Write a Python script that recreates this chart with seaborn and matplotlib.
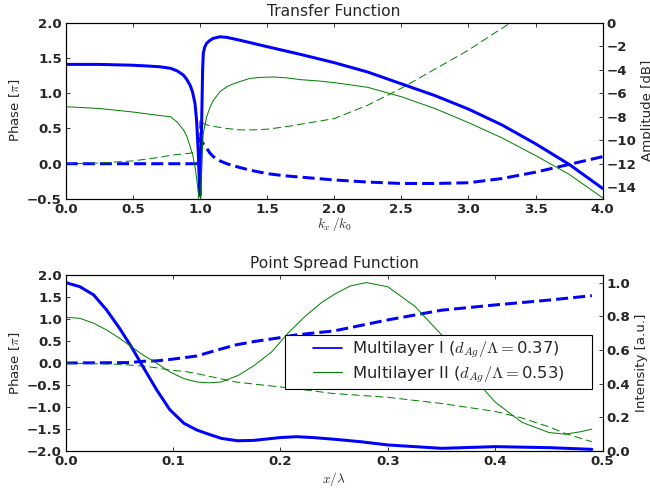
import matplotlib
matplotlib.use("Agg")
import matplotlib.pyplot as plt
import seaborn as sns
from matplotlib.lines import Line2D
from matplotlib.legend_handler import HandlerLine2D

# ---------------- data: Transfer Function ----------------
tf_k_blue_amp = [0, 0.25, 0.5, 0.6, 0.7, 0.78, 0.83, 0.876, 0.9, 0.926, 0.945, 0.963, 0.975,
                 0.988, 0.995, 1.0, 1.007, 1.013, 1.02, 1.025, 1.035, 1.05, 1.075, 1.1, 1.15,
                 1.2, 1.3, 1.5, 1.75, 2.0, 2.25, 2.5, 2.75, 3.0, 3.25, 3.5, 3.75, 4.0]
tf_blue_amp = [-3.55, -3.55, -3.62, -3.68, -3.75, -3.88, -4.1, -4.45, -4.8, -5.3, -5.9, -6.86, -8.3,
               -11.1, -13.5, -14.7, -12.0, -8.3, -4.0, -2.6, -2.1, -1.75, -1.5, -1.33, -1.2,
               -1.25, -1.5, -2.04, -2.7, -3.4, -4.2, -5.2, -6.2, -7.35, -8.7, -10.3, -12.05, -14.1]

tf_k_blue_ph = [0, 0.5, 0.99, 1.0, 1.025, 1.05, 1.075, 1.1, 1.15, 1.2, 1.27, 1.37, 1.5, 1.625,
                1.75, 1.875, 2.0, 2.25, 2.5, 2.75, 3.0, 3.25, 3.5, 3.75, 4.0]
tf_blue_ph = [0, 0, 0, 0.36, 0.28, 0.22, 0.15, 0.1, 0.04, 0.0, -0.04, -0.09, -0.14, -0.17,
              -0.19, -0.21, -0.23, -0.26, -0.28, -0.28, -0.27, -0.21, -0.12, -0.01, 0.1]

tf_k_green_amp = [0, 0.25, 0.5, 0.6, 0.7, 0.78, 0.83, 0.876, 0.9, 0.926, 0.945, 0.963, 0.975,
                  0.988, 0.995, 1.0, 1.007, 1.013, 1.025, 1.05, 1.075, 1.1, 1.15, 1.2, 1.25,
                  1.3, 1.37, 1.45, 1.55, 1.65, 1.75, 1.875, 2.0, 2.25, 2.5, 2.75, 3.0, 3.25,
                  3.5, 3.75, 4.0]
tf_green_amp = [-7.15, -7.3, -7.6, -7.75, -7.9, -8.0, -8.45, -9.1, -9.6, -10.5, -11.2, -12.25, -13.2,
                -14.5, -16.0, -20.0, -14.0, -11.7, -9.4, -8.0, -7.2, -6.6, -5.87, -5.45, -5.2,
                -5.0, -4.75, -4.65, -4.62, -4.7, -4.85, -4.95, -5.1, -5.5, -6.3, -7.3, -8.5, -9.8,
                -11.3, -12.9, -14.9]

tf_k_green_ph = [0, 0.25, 0.5, 0.7, 0.78, 0.93, 0.99, 1.0, 1.025, 1.05, 1.1, 1.2, 1.3, 1.4,
                 1.5, 1.625, 1.75, 1.875, 2.0, 2.25, 2.5, 2.75, 3.0, 3.2, 3.4]
tf_green_ph = [0, 0.01, 0.04, 0.09, 0.12, 0.15, 0.185, 0.62, 0.57, 0.55, 0.53, 0.5, 0.48, 0.48,
               0.49, 0.52, 0.56, 0.6, 0.64, 0.83, 1.07, 1.34, 1.61, 1.86, 2.1]

# ---------------- data: Point Spread Function ----------------
psf_x_blue_int = [0, 0.013, 0.026, 0.038, 0.05, 0.061, 0.072, 0.085, 0.097, 0.11, 0.122, 0.133,
                  0.145, 0.16, 0.175, 0.2, 0.215, 0.23, 0.25, 0.275, 0.3, 0.35, 0.4, 0.45, 0.49]
psf_blue_int = [1.0, 0.976, 0.927, 0.838, 0.73, 0.62, 0.5, 0.36, 0.245, 0.165, 0.125, 0.1,
                0.075, 0.061, 0.063, 0.08, 0.085, 0.08, 0.07, 0.055, 0.036, 0.016, 0.026, 0.02, 0.01]

psf_x_blue_ph = [0, 0.06, 0.072, 0.085, 0.097, 0.11, 0.122, 0.139, 0.158, 0.176, 0.198, 0.215,
                 0.25, 0.3, 0.35, 0.4, 0.45, 0.49]
psf_blue_ph = [0, 0.01, 0.04, 0.05, 0.08, 0.12, 0.16, 0.28, 0.41, 0.49, 0.57, 0.64,
               0.73, 0.98, 1.2, 1.32, 1.43, 1.53]

psf_x_green_int = [0, 0.013, 0.026, 0.038, 0.05, 0.061, 0.072, 0.085, 0.097, 0.11, 0.122, 0.133,
                   0.145, 0.161, 0.176, 0.192, 0.207, 0.223, 0.238, 0.25, 0.265, 0.28, 0.3, 0.325,
                   0.35, 0.375, 0.4, 0.425, 0.45, 0.465, 0.48, 0.49]
psf_green_int = [0.794, 0.788, 0.759, 0.719, 0.67, 0.62, 0.57, 0.52, 0.47, 0.43, 0.41, 0.405,
                 0.41, 0.45, 0.51, 0.59, 0.70, 0.80, 0.88, 0.93, 0.98, 1.0, 0.975, 0.86,
                 0.69, 0.47, 0.29, 0.17, 0.11, 0.10, 0.115, 0.13]

psf_x_green_ph = [0, 0.05, 0.072, 0.085, 0.097, 0.113, 0.12, 0.139, 0.158, 0.176, 0.198, 0.2135,
                  0.248, 0.3, 0.35, 0.4, 0.425, 0.45, 0.465, 0.49]
psf_green_ph = [0, -0.03, -0.07, -0.11, -0.16, -0.2, -0.23, -0.33, -0.43, -0.48, -0.54, -0.58,
                -0.69, -0.78, -0.92, -1.1, -1.25, -1.45, -1.6, -1.79]

tf_xticks = [0, 0.5, 1.0, 1.5, 2.0, 2.5, 3.0, 3.5, 4.0]
tf_yticks = [-0.5, 0.0, 0.5, 1.0, 1.5, 2.0]
tf_y2ticks = [-14, -12, -10, -8, -6, -4, -2, 0]
psf_xticks = [0, 0.1, 0.2, 0.3, 0.4, 0.5]
psf_yticks = [-2.0, -1.5, -1.0, -0.5, 0.0, 0.5, 1.0, 1.5, 2.0]
psf_y2ticks = [0.0, 0.2, 0.4, 0.6, 0.8, 1.0]

labels = [r"Multilayer I ($d_{Ag}/\Lambda=$0.37)", r"Multilayer II ($d_{Ag}/\Lambda=$0.53)"]

# ---------------- style ----------------
sns.set_style("ticks", {"xtick.direction": "in", "ytick.direction": "in"})
plt.rcParams["font.family"] = ["DejaVu Sans"]
plt.rcParams["mathtext.fontset"] = "cm"
plt.rcParams["font.size"] = 12
plt.rcParams["xtick.major.size"] = 4
plt.rcParams["ytick.major.size"] = 4
plt.rcParams["axes.linewidth"] = 1.0

BLUE = (0, 0, 1)
GREEN = (0, 0.5, 0)
LW_B = 2.7
LW_G = 0.9
DASH_B = (4, 1.7)
DASH_G = (8, 4)

DPI = 80
fig = plt.figure(figsize=(650 / DPI, 494 / DPI), dpi=DPI)
ax1 = fig.add_axes([0.1011, 0.5972, 0.826, 0.3569])
ax3 = fig.add_axes([0.1011, 0.0870, 0.826, 0.3563])


def line(ax, x, y, color, lw, dashes=None):
    sns.lineplot(x=x, y=y, ax=ax, color=color, lw=lw, sort=False, estimator=None)
    ln = ax.get_lines()[-1]
    if dashes is not None:
        ln.set_dashes(dashes)
    return ln


def boldticks(ax):
    for lab in ax.get_xticklabels() + ax.get_yticklabels():
        lab.set_fontweight("bold")
        lab.set_fontsize(12)


def frame(*axes):
    for a in axes:
        for s in a.spines.values():
            s.set_visible(True)
            s.set_color("black")
        boldticks(a)


# ---- Transfer Function ----
line(ax1, tf_k_blue_ph, tf_blue_ph, BLUE, LW_B, DASH_B)
line(ax1, tf_k_green_ph, tf_green_ph, GREEN, LW_G, DASH_G)
ax1.set_xlim(0, 4)
ax1.set_ylim(-0.5, 2.0)
ax1.set_xticks(tf_xticks)
ax1.set_yticks(tf_yticks)
ax1.set_ylabel(r"Phase [$\pi$]", fontsize=12)
ax1.set_xlabel(r"$k_x\,/k_0$", fontsize=12, labelpad=-1)
ax1.set_title("Transfer Function", fontsize=14)
ax1.tick_params(top=True, right=False)

ax2 = ax1.twinx()
line(ax2, tf_k_blue_amp, tf_blue_amp, BLUE, LW_B)
line(ax2, tf_k_green_amp, tf_green_amp, GREEN, LW_G)
ax2.set_ylim(-15, 0)
ax2.set_yticks(tf_y2ticks)
ax2.set_ylabel("Amplitude [dB]", fontsize=12)
ax2.tick_params(direction="in")
frame(ax1, ax2)

# ---- Point Spread Function ----
line(ax3, psf_x_blue_ph, psf_blue_ph, BLUE, LW_B, DASH_B)
line(ax3, psf_x_green_ph, psf_green_ph, GREEN, LW_G, DASH_G)
ax3.set_xlim(0, 0.5)
ax3.set_ylim(-2.0, 2.0)
ax3.set_xticks(psf_xticks)
ax3.set_yticks(psf_yticks)
ax3.set_ylabel(r"Phase [$\pi$]", fontsize=12)
ax3.set_xlabel(r"$x/\lambda$", fontsize=12, labelpad=1.5)
ax3.set_title("Point Spread Function", fontsize=14)
ax3.tick_params(top=True, right=False)

ax4 = ax3.twinx()
line(ax4, psf_x_blue_int, psf_blue_int, BLUE, LW_B)
line(ax4, psf_x_green_int, psf_green_int, GREEN, LW_G)
ax4.set_ylim(0, 1.045)
ax4.set_yticks(psf_y2ticks)
ax4.set_ylabel("Intensity [a.u.]", fontsize=12)
ax4.tick_params(direction="in")
frame(ax3, ax4)

handles = [Line2D([], [], color=BLUE, lw=1.6), Line2D([], [], color=GREEN, lw=1.0)]
hmap = {h: HandlerLine2D(xpad=1.46) for h in handles}
leg = ax4.legend(handles, labels, handler_map=hmap, loc="center",
                 bbox_to_anchor=(0.408, 0.005, 0.573, 1.0), mode="expand",
                 borderaxespad=0, fontsize=14.7, frameon=True, fancybox=False,
                 framealpha=1, edgecolor="black", handlelength=3.24, handletextpad=0.61,
                 borderpad=0.25, labelspacing=0.25)
leg.get_frame().set_linewidth(1.0)

fig.savefig("out.png", dpi=DPI)
